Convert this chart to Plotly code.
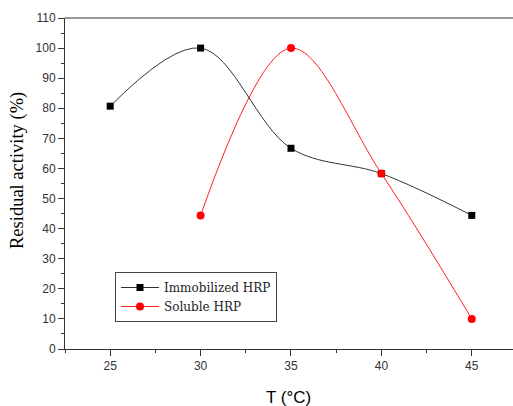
import plotly.graph_objects as go

temps_imm = [25, 30, 35, 40, 45]
act_imm = [80.7, 100.0, 66.7, 58.3, 44.4]
temps_sol = [30, 35, 40, 45]
act_sol = [44.4, 100.0, 58.3, 10.0]
x_ticks = [25, 30, 35, 40, 45]
y_ticks = list(range(0, 111, 10))

fig = go.Figure()
fig.add_trace(go.Scatter(
    x=temps_imm, y=act_imm, name="Immobilized HRP", mode="lines+markers",
    line=dict(color="#333333", width=1, shape="spline", smoothing=1.0),
    marker=dict(symbol="square", size=7, color="black"),
))
fig.add_trace(go.Scatter(
    x=temps_sol, y=act_sol, name="Soluble HRP", mode="lines+markers",
    line=dict(color="#ff2020", width=1, shape="spline", smoothing=1.0),
    marker=dict(symbol="circle", size=8, color="red"),
))

fig.update_layout(
    width=513, height=406,
    margin=dict(l=65, r=0, t=18, b=57, autoexpand=False),
    paper_bgcolor="white", plot_bgcolor="white",
    font=dict(family="Liberation Sans, Arial", size=12, color="#333333"),
    showlegend=True,
    legend=dict(
        x=(115 - 65) / 448, y=1 - (272 - 18) / 331, xanchor="left", yanchor="top",
        font=dict(family="DejaVu Serif", size=12, color="#222222"),
        bordercolor="#444444", borderwidth=1, bgcolor="white",
        tracegroupgap=0, itemwidth=38,
    ),
    xaxis=dict(
        range=[22.5, 47.28], tickvals=x_ticks, ticks="outside", ticklen=6,
        tickcolor="#333333", showline=True, linecolor="#333333", linewidth=1,
        mirror=False, showgrid=False, zeroline=False, automargin=False,
        minor=dict(tickvals=[22.5, 27.5, 32.5, 37.5, 42.5, 47.5], ticks="outside", ticklen=3, tickcolor="#333333"),
        tickfont=dict(size=12, color="#333333"),
    ),
    yaxis=dict(
        range=[0, 110], tickvals=y_ticks, ticks="outside", ticklen=6,
        tickcolor="#333333", showline=True, linecolor="#333333", linewidth=1,
        showgrid=False, zeroline=False, automargin=False,
        minor=dict(tickvals=[5, 15, 25, 35, 45, 55, 65, 75, 85, 95, 105], ticks="outside", ticklen=3, tickcolor="#333333"),
        tickfont=dict(size=12, color="#333333"),
    ),
)
# top border line
fig.add_shape(type="line", xref="paper", yref="paper", x0=0, x1=1, y0=1, y1=1,
              line=dict(color="#333333", width=1))

# axis titles
fig.add_annotation(text="T (°C)", xref="paper", yref="paper",
                   x=(288 - 65) / 448, y=-(397 - 349) / 331, xanchor="center", yanchor="middle",
                   showarrow=False, font=dict(family="Liberation Sans, Arial", size=17, color="black"))
fig.add_annotation(text="Residual activity (%)", xref="paper", yref="paper",
                   x=-(65 - 17) / 448, y=(349 - 171) / 331, xanchor="center", yanchor="middle",
                   textangle=-90, showarrow=False,
                   font=dict(family="Liberation Serif, Times New Roman", size=18.5, color="black"))

fig.write_html("out.html", config={"displayModeBar": False},
               post_script="document.body.style.margin='0';")
